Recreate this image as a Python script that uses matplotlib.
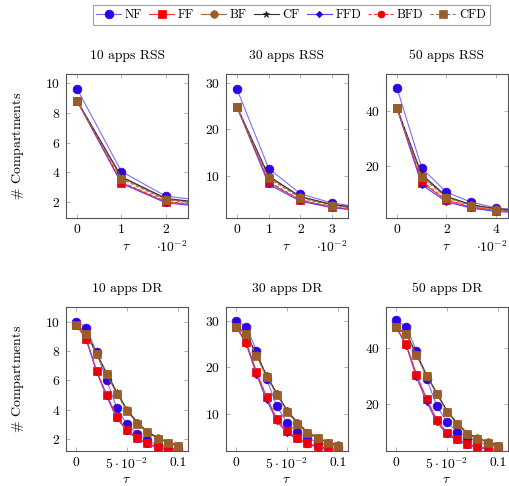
import numpy as np
import matplotlib
matplotlib.use("Agg")
import matplotlib.pyplot as plt
from matplotlib.ticker import FuncFormatter

plt.rcParams['font.family'] = ['cmr10', 'DejaVu Serif']
plt.rcParams['mathtext.fontset'] = 'cm'
plt.rcParams['axes.formatter.use_mathtext'] = True
plt.rcParams['font.size'] = 9.5

# DATA
series = ["NF", "FF", "BF", "CF", "FFD", "BFD", "CFD"]

tau_rss = [0, 0.01, 0.02, 0.03, 0.04, 0.05]
tau_dr = [0, 0.01, 0.02, 0.03, 0.04, 0.05, 0.06, 0.07, 0.08, 0.09, 0.1]

rss10 = {
    "NF":  [9.6, 4.05, 2.4, 2.05, 1.85, 1.7],
    "FF":  [8.8, 3.3, 2.0, 1.7, 1.5, 1.4],
    "BF":  [8.8, 3.65, 2.2, 1.85, 1.65, 1.5],
    "CF":  [8.8, 3.7, 2.25, 1.9, 1.7, 1.55],
    "FFD": [8.8, 3.25, 1.95, 1.65, 1.45, 1.35],
    "BFD": [8.8, 3.35, 2.05, 1.72, 1.52, 1.4],
    "CFD": [8.8, 3.55, 2.15, 1.82, 1.62, 1.5],
}
rss30 = {
    "NF":  [28.6, 11.6, 6.2, 4.2, 3.3, 2.8],
    "FF":  [24.8, 8.6, 4.8, 3.3, 2.6, 2.2],
    "BF":  [24.8, 9.8, 5.5, 3.8, 3.0, 2.5],
    "CF":  [24.8, 10.0, 5.6, 3.9, 3.1, 2.6],
    "FFD": [24.8, 8.2, 4.6, 3.2, 2.5, 2.1],
    "BFD": [24.8, 8.8, 4.9, 3.4, 2.7, 2.3],
    "CFD": [24.8, 9.5, 5.3, 3.6, 2.9, 2.4],
}
rss50 = {
    "NF":  [48.3, 19.3, 10.5, 6.9, 4.8, 4.0],
    "FF":  [41.0, 14.0, 7.5, 5.0, 3.8, 3.2],
    "BF":  [41.0, 16.5, 8.8, 5.8, 4.3, 3.6],
    "CF":  [41.0, 17.0, 9.0, 6.0, 4.5, 3.8],
    "FFD": [41.0, 13.2, 7.0, 4.7, 3.5, 3.0],
    "BFD": [41.0, 14.5, 7.8, 5.2, 3.9, 3.3],
    "CFD": [41.0, 16.0, 8.5, 5.6, 4.2, 3.5],
}
dr10 = {
    "NF":  [10.0, 9.6, 7.9, 6.0, 4.1, 3.0, 2.35, 1.9, 1.6, 1.4, 1.3],
    "FF":  [9.8, 8.8, 6.65, 5.0, 3.5, 2.6, 2.05, 1.7, 1.45, 1.3, 1.2],
    "BF":  [9.8, 9.15, 7.8, 6.4, 5.1, 3.95, 3.1, 2.45, 2.05, 1.75, 1.5],
    "CF":  [9.8, 9.2, 7.85, 6.5, 5.2, 4.0, 3.15, 2.5, 2.1, 1.8, 1.55],
    "FFD": [9.9, 8.75, 6.6, 4.9, 3.4, 2.55, 2.0, 1.65, 1.4, 1.25, 1.15],
    "BFD": [9.8, 8.8, 6.65, 5.0, 3.5, 2.6, 2.05, 1.7, 1.45, 1.3, 1.2],
    "CFD": [9.8, 9.15, 7.8, 6.45, 5.1, 3.9, 3.05, 2.45, 2.0, 1.7, 1.5],
}
dr30 = {
    "NF":  [30.0, 28.8, 23.6, 17.5, 11.6, 8.1, 6.1, 4.8, 3.9, 3.3, 2.9],
    "FF":  [28.8, 25.4, 19.0, 13.6, 8.8, 6.3, 4.8, 3.7, 3.0, 2.6, 2.3],
    "BF":  [28.8, 27.2, 22.6, 18.1, 14.2, 10.6, 8.0, 5.9, 4.8, 3.8, 3.2],
    "CF":  [28.8, 27.3, 22.8, 18.3, 14.4, 10.8, 8.2, 6.1, 4.9, 3.9, 3.3],
    "FFD": [28.8, 25.0, 18.4, 13.0, 8.4, 5.9, 4.5, 3.5, 2.8, 2.4, 2.1],
    "BFD": [28.8, 25.3, 18.9, 13.5, 8.7, 6.2, 4.7, 3.6, 2.9, 2.5, 2.2],
    "CFD": [28.8, 27.1, 22.5, 18.0, 14.1, 10.5, 7.9, 5.8, 4.7, 3.7, 3.1],
}
dr50 = {
    "NF":  [49.8, 47.6, 38.9, 29.0, 19.3, 13.5, 10.1, 8.0, 6.5, 5.5, 4.8],
    "FF":  [47.4, 41.3, 30.4, 21.8, 14.2, 9.8, 7.6, 5.7, 4.8, 4.1, 3.7],
    "BF":  [47.4, 44.9, 37.5, 30.1, 23.6, 17.3, 12.9, 9.3, 7.7, 6.3, 5.1],
    "CF":  [47.4, 45.1, 37.8, 30.4, 23.9, 17.6, 13.2, 9.6, 7.9, 6.5, 5.3],
    "FFD": [47.4, 40.8, 29.5, 20.8, 13.4, 9.2, 7.0, 5.3, 4.4, 3.8, 3.4],
    "BFD": [47.4, 41.2, 30.2, 21.6, 14.0, 9.7, 7.5, 5.6, 4.7, 4.0, 3.6],
    "CFD": [47.4, 44.8, 37.4, 30.0, 23.5, 17.2, 12.8, 9.2, 7.6, 6.2, 5.0],
}

titles = ["10 apps RSS", "30 apps RSS", "50 apps RSS",
          "10 apps DR", "30 apps DR", "50 apps DR"]

# STYLES
styles = {
    "NF":  dict(color='#7f6cff', marker='o', ms=6.3, mfc='#3000e8', mec='#3000e8', ls='-'),
    "FF":  dict(color='#ff3030', marker='s', ms=5.5, mfc='#f00000', mec='#f00000', ls='-'),
    "BF":  dict(color='#a86a38', marker='o', ms=5.5, mfc='#9a5c28', mec='#9a5c28', ls='-'),
    "CF":  dict(color='#303030', marker='*', ms=4.5, mfc='#202020', mec='#202020', ls='-'),
    "FFD": dict(color='#5a40ff', marker='D', ms=3.3, mfc='#2a00e0', mec='#2a00e0', ls='-'),
    "BFD": dict(color='#ff3030', marker='o', ms=5, mfc='#f00000', mec='#f00000', ls=(0, (3, 2))),
    "CFD": dict(color='#a06a40', marker='s', ms=6, mfc='#9a5c28', mec='#9a5c28', ls=(0, (3, 2))),
}

fig = plt.figure(figsize=(5.09, 4.86), dpi=100)

lefts = [0.1297, 0.444, 0.7583]
bottoms = [0.5514, 0.072]
w, h = 0.2397, 0.2963

panels = [rss10, rss30, rss50, dr10, dr30, dr50]
xlims = [(-0.0025, 0.025), (-0.0035, 0.035), (-0.0045, 0.045),
         (-0.01, 0.11), (-0.01, 0.11), (-0.01, 0.11)]
ylims = [(0.93, 10.6), (1.0, 31.9), (1.1, 53.5),
         (1.18, 11.0), (2.0, 33.0), (3.2, 54.6)]
xticks = [[0, 0.01, 0.02], [0, 0.01, 0.02, 0.03], [0, 0.02, 0.04],
          [0, 0.05, 0.1], [0, 0.05, 0.1], [0, 0.05, 0.1]]
yticks = [[2, 4, 6, 8, 10], [10, 20, 30], [20, 40],
          [2, 4, 6, 8, 10], [10, 20, 30], [20, 40]]

def rss_fmt(v, pos):
    return "%d" % round(v * 100)

def dr_fmt(v, pos):
    if abs(v) < 1e-9:
        return "0"
    if abs(v - 0.05) < 1e-9:
        return r"$5\cdot10^{-2}$"
    return "0.1"

axes = []
for i in range(6):
    row, col = divmod(i, 3)
    ax = fig.add_axes([lefts[col], bottoms[row], w, h])
    axes.append(ax)
    data = panels[i]
    tau = tau_rss if row == 0 else tau_dr
    for name in series:
        st = styles[name]
        ax.plot(tau, data[name], label=name, lw=0.8, mew=0.5, **st)
    ax.set_xlim(*xlims[i])
    ax.set_ylim(*ylims[i])
    ax.set_xticks(xticks[i])
    ax.set_yticks(yticks[i])
    ax.xaxis.set_major_formatter(FuncFormatter(rss_fmt if row == 0 else dr_fmt))
    ax.tick_params(direction='in', length=3, width=0.6, color='#aaaaaa',
                   top=True, right=True, labelsize=9.8, pad=4)
    for sp in ax.spines.values():
        sp.set_color('#555555')
        sp.set_linewidth(0.8)
    ax.set_title(titles[i], fontsize=9.8, pad=11)
    ax.set_xlabel(r"$\tau$", fontsize=10, labelpad=4 if row == 0 else 1)
    if row == 0:
        ax.text(1.0, -0.2, r"$\cdot10^{-2}$", transform=ax.transAxes,
                ha='right', va='center', fontsize=9.8)
    if col == 0:
        ax.set_ylabel(r"$\#$ Compartments", fontsize=10, labelpad=14)

handles, labels = axes[0].get_legend_handles_labels()
leg = fig.legend(handles, labels, loc='center', bbox_to_anchor=(0.572, 0.969),
                 ncol=7, fontsize=9, handlelength=2.0, handletextpad=0.3,
                 columnspacing=0.55, frameon=True, fancybox=False,
                 borderpad=0.3, borderaxespad=0)
leg.get_frame().set_edgecolor('#888888')
leg.get_frame().set_linewidth(0.8)

fig.savefig("out.png", dpi=100)
